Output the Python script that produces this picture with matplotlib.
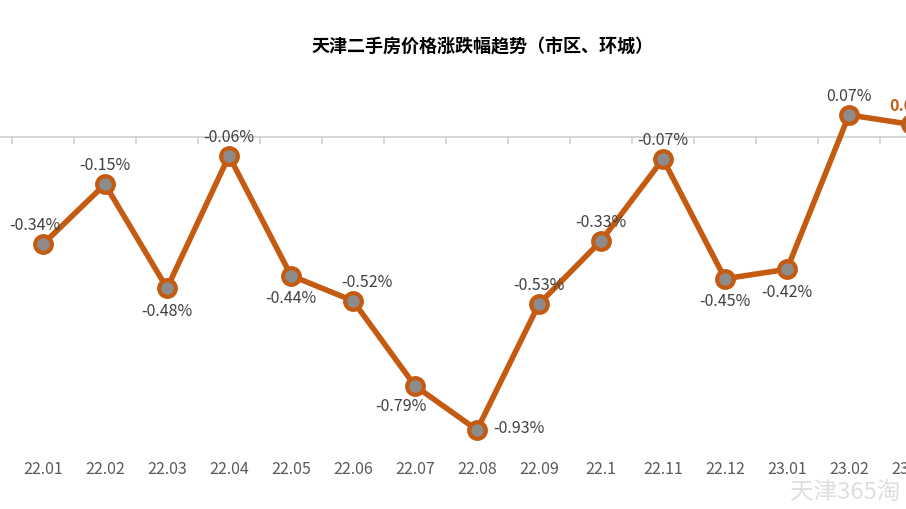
import matplotlib
matplotlib.use("Agg")
import matplotlib.pyplot as plt

plt.rcParams['font.family'] = ['Noto Sans CJK SC', 'DejaVu Sans']

categories = ["22.01","22.02","22.03","22.04","22.05","22.06","22.07","22.08","22.09","22.1","22.11","22.12","23.01","23.02","23.03"]
values = [-0.34,-0.15,-0.48,-0.06,-0.44,-0.52,-0.79,-0.93,-0.53,-0.33,-0.07,-0.45,-0.42,0.07,0.04]
# label offsets in points (dx, dy)
offsets = [(-6,14),(0,14),(0,-16),(0,14),(0,-16),(10,14),(-10,-14),(30,2),(0,14),(0,14),(0,14),(0,-16),(0,-16),(0,14),(2,14)]

W, H = 906, 510
fig = plt.figure(figsize=(W/100, H/100), dpi=100)
top_px, bot_px, zero_px, ppu = 30, 480, 138, 315.0
ax = fig.add_axes([0, 1-bot_px/H, 1, (bot_px-top_px)/H])
ax.set_ylim(-(bot_px-zero_px)/ppu, (zero_px-top_px)/ppu)
ax.set_xlim(-43/62, (906-43)/62)

orange = "#C55A11"
x = list(range(len(categories)))
ax.plot(x, values, color=orange, lw=4, marker='o', ms=12, mfc="#8c8c8c", mec=orange, mew=3, zorder=3, clip_on=True)

for i, (v, (dx, dy)) in enumerate(zip(values, offsets)):
    last = i == len(values)-1
    ax.annotate(f"{v:.2f}%", (i, v), xytext=(dx, dy), textcoords='offset points',
                ha='center', va='center', fontsize=11.5,
                color=orange if last else "#404040",
                fontweight='bold' if last else 'normal', zorder=4, annotation_clip=False)

ax.axhline(0, color="#d0d0d0", lw=1.2, zorder=1)
for k in range(len(categories)+1):
    ax.plot([k-0.5, k-0.5], [0, -0.018], color="#d0d0d0", lw=1.2, zorder=1)

for i, c in enumerate(categories):
    ax.text(i, -(470-zero_px)/ppu, c, ha='center', va='center', fontsize=11.5, color="#595959")

for s in ax.spines.values():
    s.set_visible(False)
ax.set_xticks([]); ax.set_yticks([])

fig.text(483/W, 1-47/H, "天津二手房价格涨跌幅趋势（市区、环城）", ha='center', va='center',
         fontsize=13, fontweight='bold', color="#000000")
fig.text(845/W, 1-492/H, "天津365淘", ha='center', va='center', fontsize=17, color="#d0d0d0", alpha=0.7)

fig.savefig("out.png", dpi=100)
